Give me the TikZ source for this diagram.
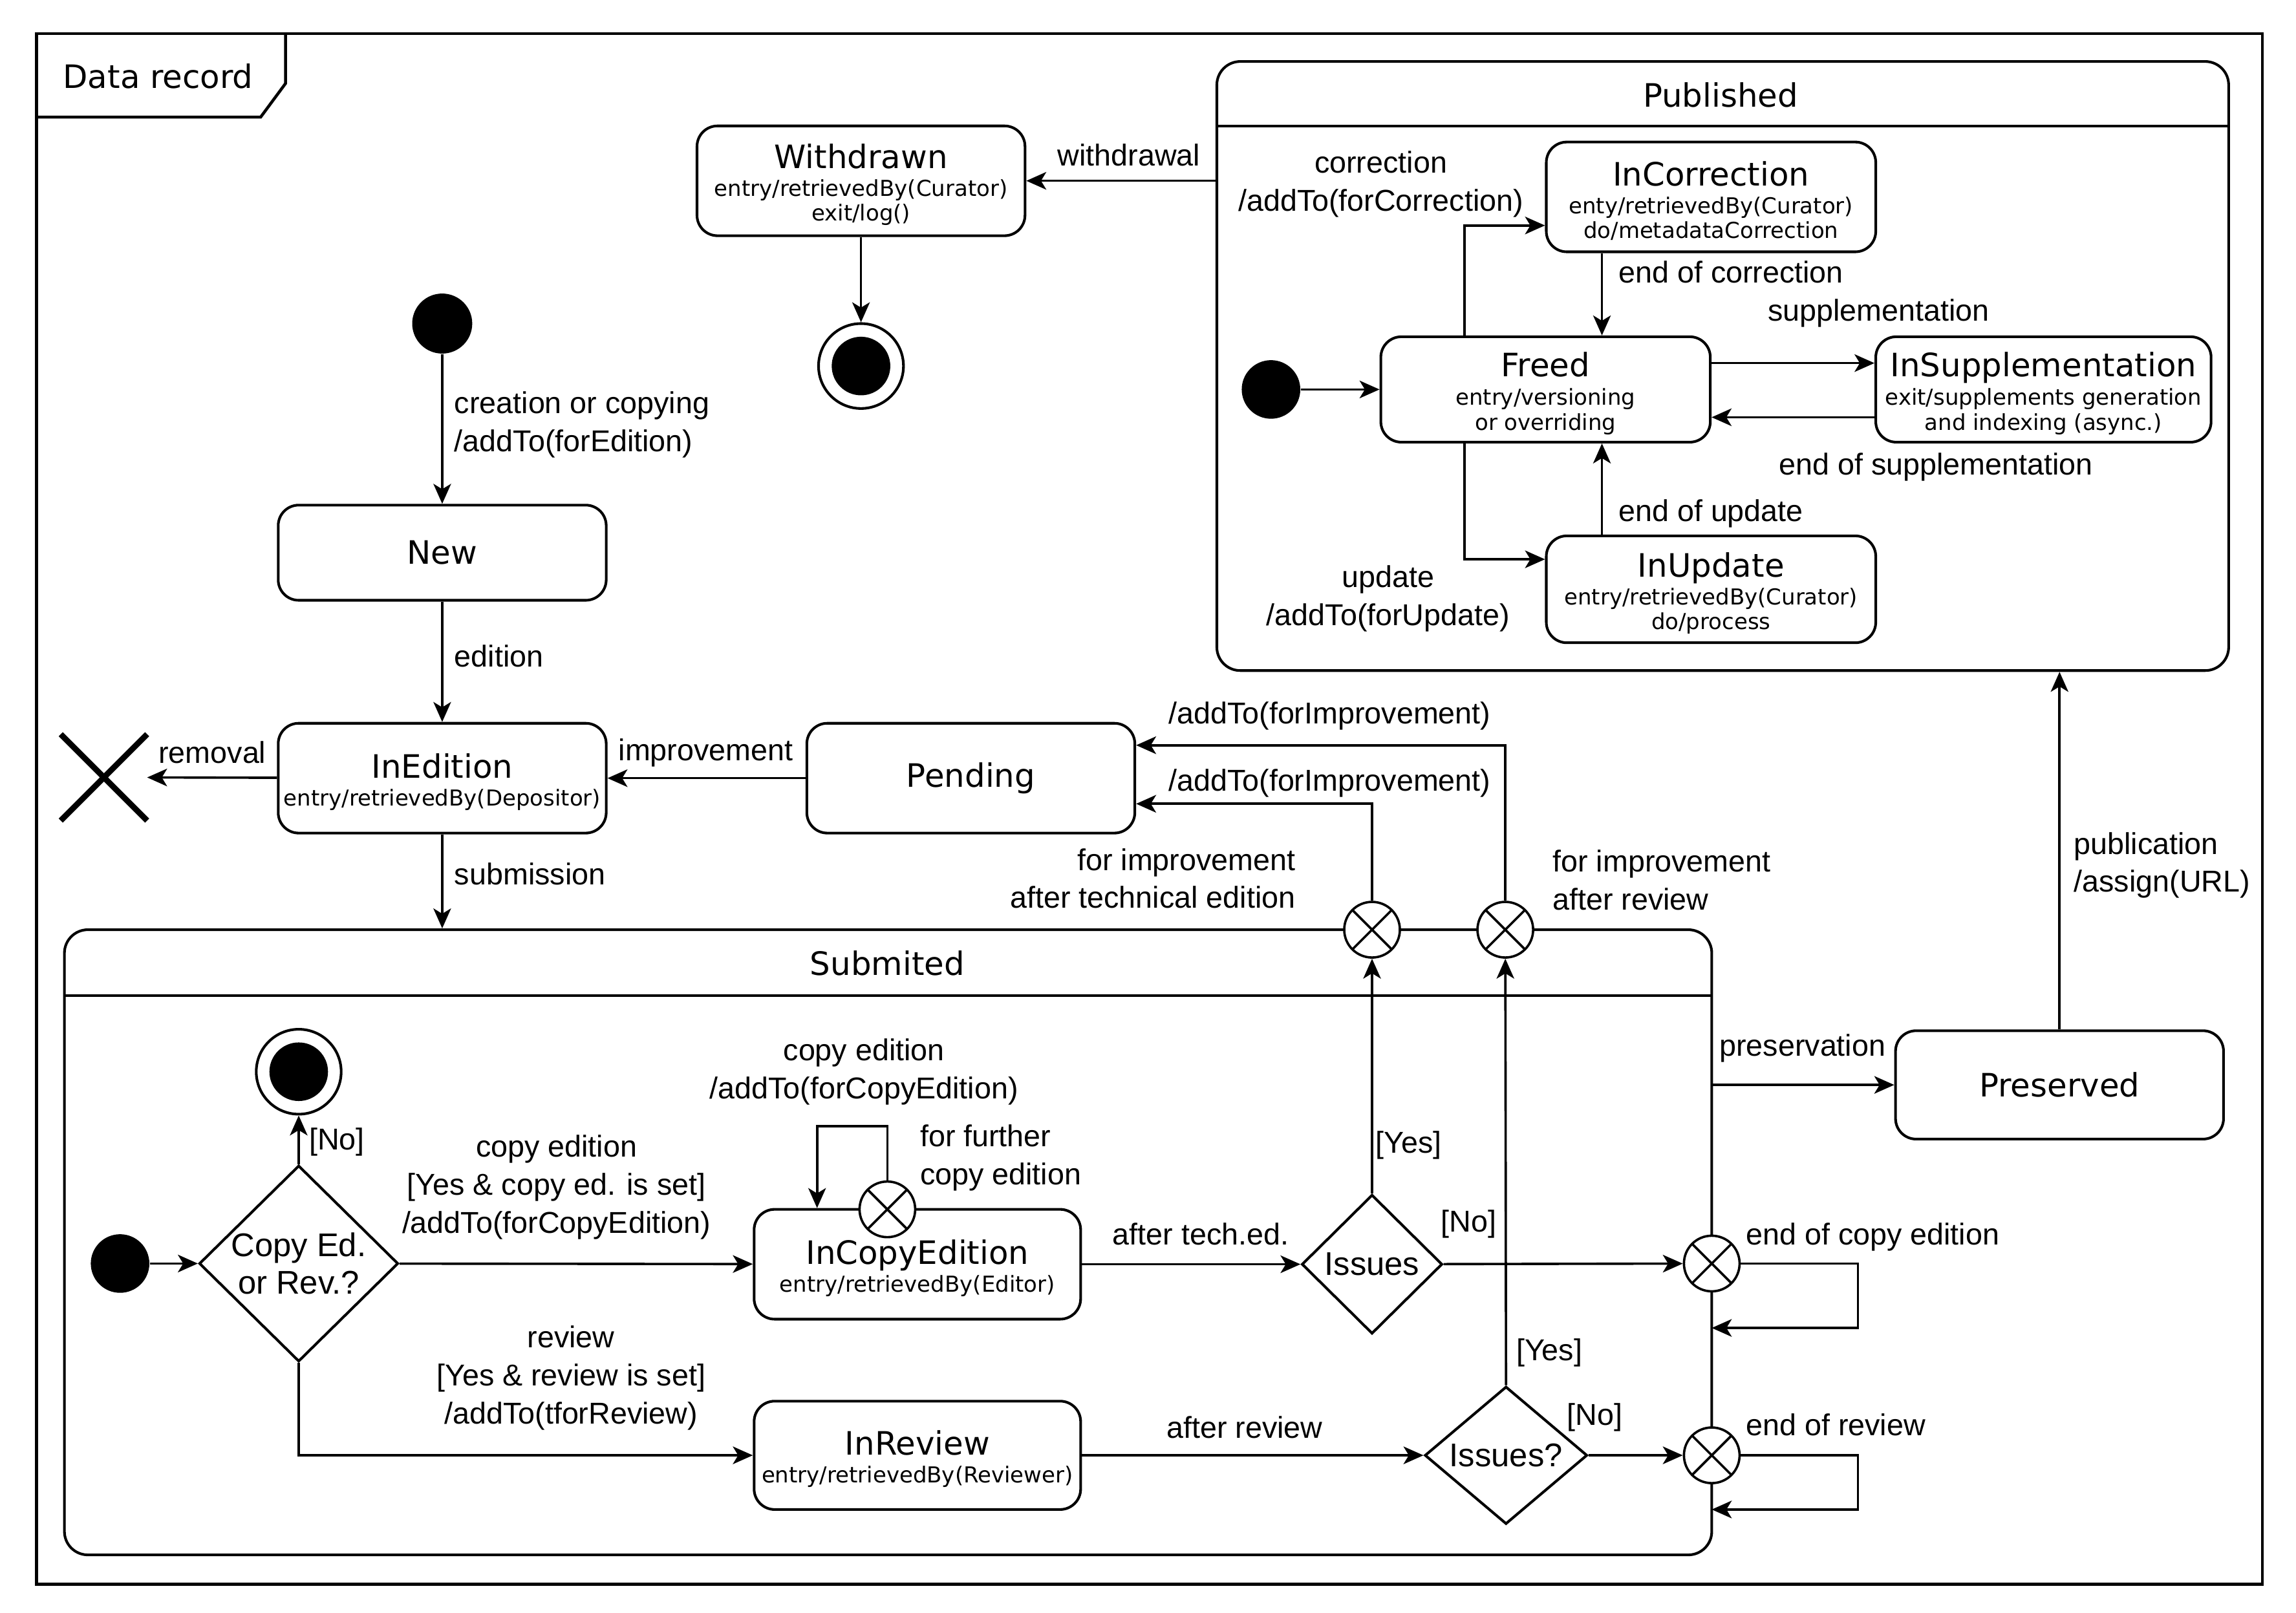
\documentclass[tikz,border=0pt]{standalone}
\usepackage{fontspec}
\setmainfont{Liberation Sans}
\newfontfamily\dejavu{DejaVu Sans}
\usetikzlibrary{arrows.meta,shapes.geometric,shapes.misc}
\newcommand{\stname}[1]{{\fontsize{11}{12}\selectfont\rule{0pt}{11pt}#1}}
\newcommand{\stsingle}[1]{{\fontsize{11}{12}\selectfont #1}}

\begin{document}
\begin{tikzpicture}[x=0.5pt, y=-0.5pt,
  >={Stealth[length=6.8pt,width=6pt,inset=1.8pt]},
  trans/.style={->, line width=0.8pt},
  lbl/.style={font=\fontsize{10.3}{13}\selectfont, inner sep=0pt, align=center},
  state/.style={draw, rounded corners=7pt, line width=0.9pt, minimum width=112pt,
    minimum height=37.5pt, inner sep=0pt, align=center, font=\dejavu\fontsize{7.5}{8.5}\selectfont},
  composite/.style={draw, rounded corners=8pt, line width=0.9pt, inner sep=0pt},
  ctitle/.style={font=\dejavu\fontsize{11}{12}\selectfont, inner sep=0pt},
  initial/.style={circle, fill=black, minimum size=20.5pt, inner sep=0pt},
  final/.style={circle, draw, line width=0.9pt, minimum size=29pt, inner sep=0pt,
    path picture={\fill (path picture bounding box.center) circle (10pt);}},
  decision/.style={diamond, draw, line width=0.9pt, inner sep=0pt, align=center,
    font=\fontsize{11.2}{13}\selectfont},
  exitpt/.style={circle, draw, fill=white, line width=0.8pt, minimum size=19pt, inner sep=0pt,
    path picture={\draw[line width=0.8pt]
      ([shift={(45:9.5pt)}]path picture bounding box.center) -- ([shift={(225:9.5pt)}]path picture bounding box.center)
      ([shift={(135:9.5pt)}]path picture bounding box.center) -- ([shift={(-45:9.5pt)}]path picture bounding box.center);}},
  terminate/.style={cross out, draw, line width=2pt, minimum size=27.5pt, inner sep=0pt}
]
\useasboundingbox (0,0) rectangle (1568,1101.7);

% frame
\draw[line width=1pt] (25,23) rectangle (1545,1082);
\draw[line width=1pt] (25,80) -- (178,80) -- (195,57) -- (195,23);
\node[ctitle] (frametitle) at (108,52) {Data record};

% composite states
\node[composite, minimum width=345.5pt, minimum height=208pt] (published) at (1176.5,250) {};
\draw[line width=0.9pt] (831,86) -- (1522,86);
\node[ctitle] (tpublished) at (1175,65) {Published};

\node[composite, minimum width=562.5pt, minimum height=213.5pt] (submitted) at (606.5,848.5) {};
\draw[line width=0.9pt] (44,680) -- (1169,680);
\node[ctitle] (tsubmitted) at (606,658) {Submited};

% top level states
\node[initial] (init1) at (302,221) {};
\node[state, minimum height=32.5pt] (new) at (302,377.5) {\stsingle{New}};
\node[state] (inedition) at (302,531.5) {\stname{InEdition}\\[1pt]entry/retrievedBy(Depositor)};
\node[terminate] (removed) at (71,531) {};
\node[state] (pending) at (663,531.5) {\stsingle{Pending}};
\node[state] (withdrawn) at (588,123.5) {\stname{Withdrawn}\\[1pt]entry/retrievedBy(Curator)\\exit/log()};
\node[final] (final1) at (588,250) {};
\node[state, minimum height=37pt] (preserved) at (1406.5,741) {\stsingle{Preserved}};

% inside Published
\node[initial, minimum size=20pt] (init3) at (868,266) {};
\node[state, minimum width=112.5pt, minimum height=36pt] (freed) at (1055.5,266) {\stname{Freed}\\[1.3pt]entry/versioning\\or overriding};
\node[state, minimum width=112.5pt] (incorr) at (1168.5,134.5) {\stname{InCorrection}\\[1pt]enty/retrievedBy(Curator)\\do/metadataCorrection};
\node[state, minimum width=114.5pt, minimum height=36pt] (insupp) at (1395.5,266) {\stname{InSupplementation}\\[1.3pt]exit/supplements generation\\and indexing (async.)};
\node[state, minimum width=112.5pt, minimum height=36.5pt] (inupd) at (1168.5,402.5) {\stname{InUpdate}\\[1pt]entry/retrievedBy(Curator)\\do/process};

% inside Submited
\node[initial, minimum size=20pt] (init2) at (82,863) {};
\node[final] (final2) at (204,732) {};
\node[decision, minimum width=68pt, minimum height=67pt, inner sep=-2pt] (choice) at (204,863) {Copy Ed.\\or Rev.?};
\node[state, minimum width=111.5pt] (incopy) at (626.5,863.5) {\stname{InCopyEdition}\\[1pt]entry/retrievedBy(Editor)};
\node[state, minimum width=111.5pt, minimum height=37pt] (inreview) at (626.5,994) {\stname{InReview}\\[1pt]entry/retrievedBy(Reviewer)};
\node[decision, minimum width=48pt, minimum height=47.5pt] (issues1) at (937,863.5) {Issues};
\node[decision, minimum width=55.5pt, minimum height=47pt] (issues2) at (1028.5,994) {Issues?};

% exit points
\node[exitpt] (exA) at (937,635) {};
\node[exitpt] (exB) at (1028,635) {};
\node[exitpt] (exC) at (1169,863) {};
\node[exitpt] (exD) at (1169,994) {};
\node[exitpt] (exE) at (606,826) {};

% transitions, top level
\draw[trans] (init1) -- (new);
\draw[trans] (new) -- (inedition);
\draw[trans] (inedition) -- (removed.east);
\draw[trans] (pending) -- (inedition);
\draw[trans] (inedition) -- (inedition |- submitted.north);
\draw[trans] (published.west |- withdrawn) -- (withdrawn);
\draw[trans] (withdrawn) -- (final1);
\draw[trans] (exA.north) |- ([yshift=-8.75pt]pending.east);
\draw[trans] (exB.north) |- ([yshift=11.25pt]pending.east);
\draw[trans] (submitted.east |- preserved) -- (preserved);
\draw[trans] (preserved) -- (preserved |- published.south);

% transitions inside Published
\draw[trans] (init3) -- (freed);
\draw[trans] ([xshift=-27.75pt]freed.north) |- ([yshift=-9.75pt]incorr.west);
\coordinate (eoc) at ([xshift=-37.25pt]incorr.south);
\draw[trans] (eoc) -- (eoc |- freed.north);
\draw[trans] ([yshift=9pt]freed.east) -- ([yshift=9pt]freed.east -| insupp.west);
\draw[trans] ([yshift=-9.5pt]insupp.west) -- ([yshift=-9.5pt]insupp.west -| freed.east);
\draw[trans] ([xshift=-27.75pt]freed.south) |- ([yshift=10.25pt]inupd.west);
\coordinate (eou) at ([xshift=-37.25pt]inupd.north);
\draw[trans] (eou) -- (eou |- freed.south);

% transitions inside Submited
\draw[trans] (init2) -- (choice);
\draw[trans] (choice) -- (final2);
\draw[trans] (choice) -- (incopy);
\draw[trans] (choice.south) |- (inreview);
\coordinate (loopin) at ([xshift=-34.25pt]incopy.north);
\draw[trans] (exE.north) |- ([yshift=28pt]loopin) -- (loopin);
\draw[trans] (incopy) -- (issues1);
\draw[trans] (issues1.north) -- (exA);
\draw[trans] (issues1) -- (exC);
\draw[trans] (inreview) -- (issues2);
\draw[trans] (issues2.north) -- (exB);
\draw[trans] (issues2) -- (exD);
\coordinate (backC) at ([yshift=-22pt]exC);
\draw[trans] (exC.east) -- ++(40pt,0) |- (backC);
\coordinate (backD) at ([yshift=-18.5pt]exD);
\draw[trans] (exD.east) -- ++(40pt,0) |- (backD);

% labels
\node[lbl] (lwithdrawal) at (771,106) {withdrawal};
\node[lbl, anchor=west, align=left] (lcreation) at (310,290) {creation or copying\\/addTo(forEdition)};
\node[lbl, anchor=west] (ledition) at (310,448) {edition};
\node[lbl] (lremoval) at (145,514) {removal};
\node[lbl] (limprove) at (482,514) {improvement};
\node[lbl, anchor=west] (lsubmission) at (310,597) {submission};
\node[lbl] (laddB) at (908,489) {/addTo(forImprovement)};
\node[lbl] (laddA) at (908,535) {/addTo(forImprovement)};
\node[lbl, anchor=east, align=right] (lforA) at (885,600) {for improvement\\after technical edition};
\node[lbl, anchor=west, align=left] (lforB) at (1060,601) {for improvement\\after review};
\node[lbl] (lnoend) at (230,780) {[No]};
\node[lbl] (lcopy) at (380,811) {copy edition\\{}[Yes \& copy ed. is set]\\/addTo(forCopyEdition)};
\node[lbl] (lreview) at (390,941) {review\\{}[Yes \& review is set]\\/addTo(tforReview)};
\node[lbl] (lloop) at (590,732) {copy edition\\/addTo(forCopyEdition)};
\node[lbl, anchor=west, align=left] (lfurther) at (628,791) {for further\\copy edition};
\node[lbl] (ltech) at (820,843) {after tech.ed.};
\node[lbl] (lyesA) at (962,782) {[Yes]};
\node[lbl] (lnoA) at (1003,836) {[No]};
\node[lbl] (lafterrev) at (850,975) {after review};
\node[lbl] (lyesB) at (1058,924) {[Yes]};
\node[lbl] (lnoB) at (1089,968) {[No]};
\node[lbl, anchor=west] (lendcopy) at (1192,845) {end of copy edition};
\node[lbl, anchor=west] (lendrev) at (1192,973) {end of review};
\node[lbl] (lpreserv) at (1231,716) {preservation};
\node[lbl, anchor=west, align=left] (lpublic) at (1416,591) {publication\\/assign(URL)};
\node[lbl] (lcorr) at (943,126) {correction\\/addTo(forCorrection)};
\node[lbl, anchor=west] (lendcorr) at (1105,186) {end of correction};
\node[lbl] (lsupp) at (1283,214) {supplementation};
\node[lbl] (lendsupp) at (1322,319) {end of supplementation};
\node[lbl] (lupd) at (948,409) {update\\/addTo(forUpdate)};
\node[lbl, anchor=west] (lendupd) at (1105,351) {end of update};
\end{tikzpicture}
\end{document}
